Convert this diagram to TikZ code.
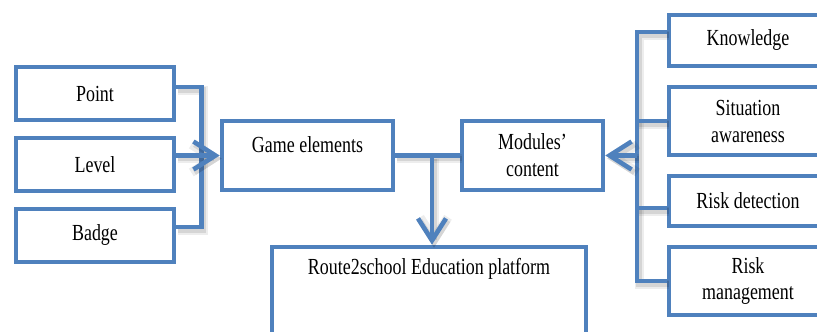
\documentclass[tikz,border=0pt]{standalone}
\usepackage{fontspec}
\setmainfont{Liberation Serif}[FakeStretch=0.78]
\usetikzlibrary{arrows.meta,calc}
\definecolor{boxblue}{RGB}{79,129,189}
\begin{document}
\begin{tikzpicture}[x=1pt,y=-1pt,
  box/.style={draw=boxblue, line width=4.6pt, fill=white, inner sep=0pt,
    font=\fontsize{23}{27}\selectfont, align=center},
  softshadow/.style={
    preaction={draw=black, draw opacity=.07, line width=9pt,
      transform canvas={shift={(2pt,-3pt)}}},
    preaction={draw=black, draw opacity=.10, line width=5.5pt,
      transform canvas={shift={(2pt,-3pt)}}}},
  conn/.style={draw=boxblue, line width=4.6pt, softshadow},
  arr/.style={conn, -{Straight Barb[length=22pt,width=28pt]}}]
\useasboundingbox (0,0) rectangle (817,332);
\clip (0,0) rectangle (817,332);

% junction points of the connectors
\coordinate (bus) at (637,155.5);
\coordinate (drop) at (432,155.5);

% game mechanics on the left
\node[box, minimum width=158, minimum height=53] (point) at (95,93.5) {Point};
\node[box, minimum width=158, minimum height=53] (level) at (95,164.5) {Level};
\node[box, minimum width=158, minimum height=53] (badge) at (95,235.5) {Badge};

% central boxes
\node[box, anchor=base, minimum width=171, text height=31pt, text depth=38pt] (game) at (307.5,152) {Game elements};
\node[box, minimum width=141, minimum height=69] (modules) at (532.5,155.5) {Modules'\\content};
\node[box, anchor=base, minimum width=314, text height=27pt, text depth=71pt] (route) at (429,274) {Route2school Education platform};

% module topics on the right
\node[box, minimum width=158, minimum height=51] (knowledge) at (748,40.5) {Knowledge};
\node[box, minimum width=158, minimum height=68] (situation) at (748,121) {Situation\\awareness};
\node[box, minimum width=158, minimum height=50] (riskdet) at (748,201) {Risk detection};
\node[box, minimum width=158, minimum height=68] (riskman) at (748,281) {Risk\\management};

% left collector into the game elements
\draw[conn] ([yshift=6.5pt]point.east) -| ([xshift=25pt]point.east) |- ([yshift=8.5pt]badge.east);
\draw[arr] (level.east |- game.west) -- (game.west);

% link between the central boxes and the drop to the platform
\draw[conn] (game.east |- drop) -- (modules.west |- drop);
\draw[arr] (drop) -- (drop |- route.north);

% right collector into the modules' content
\draw[conn] ([yshift=8.5pt]knowledge.west) -| (bus) |- (riskman.west);
\draw[conn] (situation.west) -- (situation.west -| bus);
\draw[conn] ([yshift=-7pt]riskdet.west) -- ([yshift=-7pt]riskdet.west -| bus);
\draw[arr] (bus) -- (modules.east |- bus);
\end{tikzpicture}
\end{document}
